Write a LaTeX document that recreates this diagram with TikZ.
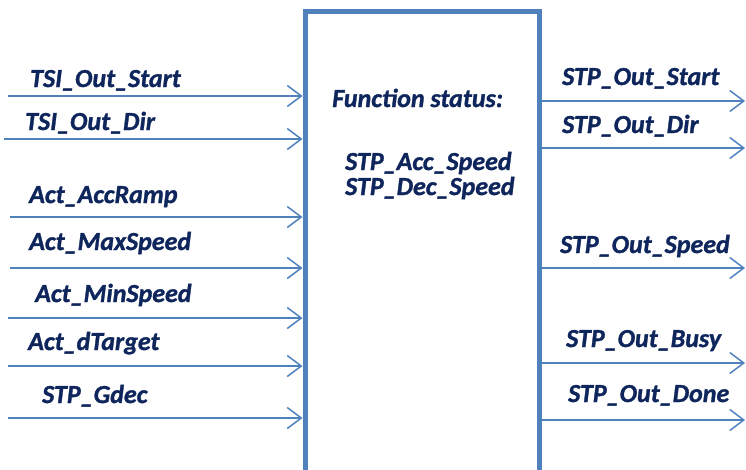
\documentclass[tikz,border=0pt]{standalone}
\usepackage{fontspec}
\setmainfont{Carlito}[BoldItalicFeatures={FakeBold=1.2}]
\usetikzlibrary{arrows.meta,positioning}
\definecolor{lineblue}{HTML}{4F81BD}
\definecolor{textnavy}{HTML}{0F265C}

\tikzset{
  sig/.style={draw=lineblue, line width=1.5pt,
    -{Straight Barb[length=14pt,width=21pt,line width=1.5pt]}},
  lbl/.style={anchor=base west, inner sep=0pt, text=textnavy,
    font=\fontsize{26}{25}\selectfont\bfseries\itshape},
}

\begin{document}
\begin{tikzpicture}[x=1pt, y=-1pt]
            \useasboundingbox (0,0) rectangle (746,469);
            % Function block
            \node[draw=lineblue, line width=5pt, minimum width=234pt, minimum height=464pt, inner sep=0pt] (fb) at (422,243) {};
            
            \node[lbl] (title) at (332,107) {Function status:};
            \node[lbl] (accspeed) at (345,170) {STP\_Acc\_Speed};
            \node[lbl] (decspeed) at (345,195) {STP\_Dec\_Speed};
            
            % Inputs
            \coordinate (in1) at (8,96);
            \coordinate (in2) at (4,139);
            \coordinate (in3) at (10,217);
            \coordinate (in4) at (10,268);
            \coordinate (in5) at (8,318);
            \coordinate (in6) at (8,366);
            \coordinate (in7) at (8,418);
            
            \node[lbl] (tsistart) at (30,87) {TSI\_Out\_Start};
            \node[lbl] (tsidir) at (25,130) {TSI\_Out\_Dir};
            \node[lbl] (accramp) at (29,203) {Act\_AccRamp};
            \node[lbl] (maxspeed) at (29,250) {Act\_MaxSpeed};
            \node[lbl] (minspeed) at (35,302) {Act\_MinSpeed};
            \node[lbl] (dtarget) at (28,350) {Act\_dTarget};
            \node[lbl] (gdec) at (42,403) {STP\_Gdec};
            
            \draw[sig] (in1) -- (fb.west |- in1);
            \draw[sig] (in2) -- (fb.west |- in2);
            \draw[sig] (in3) -- (fb.west |- in3);
            \draw[sig] (in4) -- (fb.west |- in4);
            \draw[sig] (in5) -- (fb.west |- in5);
            \draw[sig] (in6) -- (fb.west |- in6);
            \draw[sig] (in7) -- (fb.west |- in7);
            
            % Outputs
            \coordinate (out1) at (745,101);
            \coordinate (out2) at (745,148);
            \coordinate (out3) at (745,268);
            \coordinate (out4) at (745,363);
            \coordinate (out5) at (745,420);
            
            \node[lbl] (outstart) at (562,85) {STP\_Out\_Start};
            \node[lbl] (outdir) at (562,133) {STP\_Out\_Dir};
            \node[lbl] (outspeed) at (560,253) {STP\_Out\_Speed};
            \node[lbl] (outbusy) at (566,347) {STP\_Out\_Busy};
            \node[lbl] (outdone) at (568,402) {STP\_Out\_Done};
            
            \draw[sig] (fb.east |- out1) -- (out1);
            \draw[sig] (fb.east |- out2) -- (out2);
            \draw[sig] (fb.east |- out3) -- (out3);
            \draw[sig] (fb.east |- out4) -- (out4);
            \draw[sig] (fb.east |- out5) -- (out5);
        \end{tikzpicture}
\end{document}
